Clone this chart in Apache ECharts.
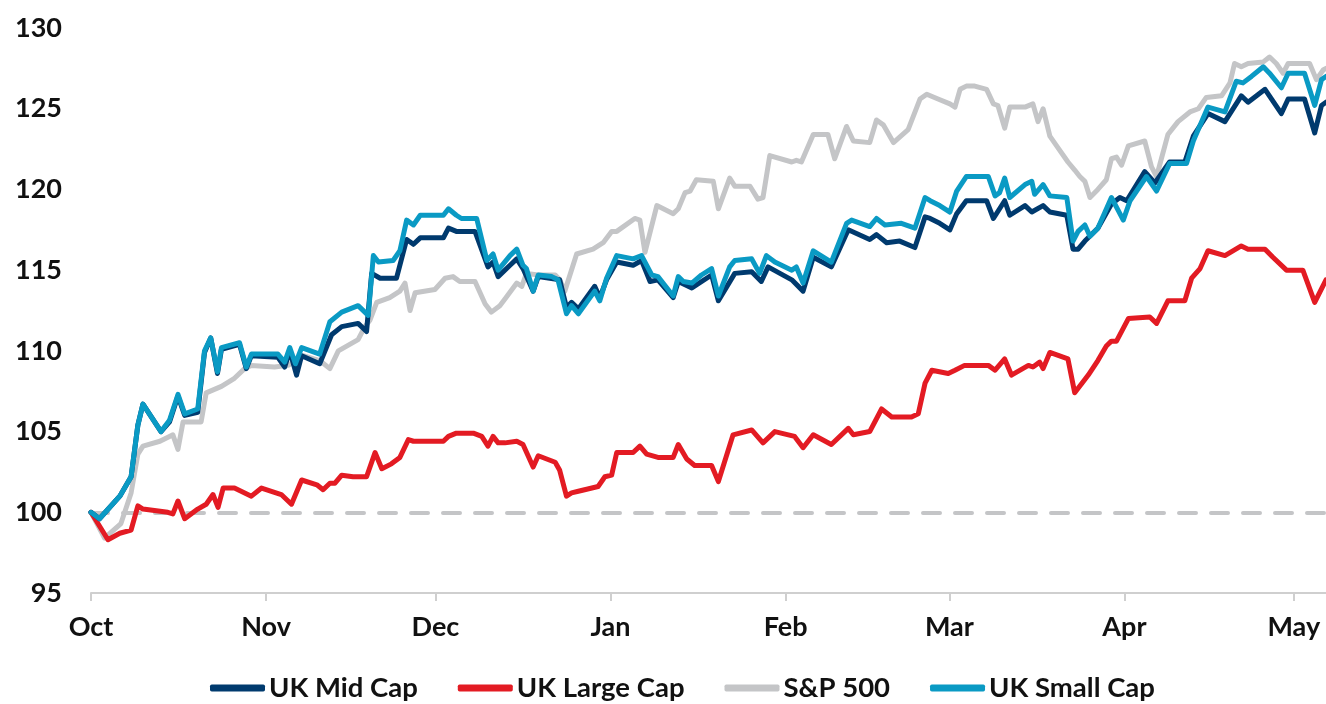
<!DOCTYPE html>
<html>
<head>
<meta charset="utf-8">
<script src="https://cdn.jsdelivr.net/npm/echarts@6/dist/echarts.min.js"></script>
<style>
html,body{margin:0;padding:0;background:#fff;}
#chart{width:1326px;height:704px;}
</style>
</head>
<body>
<div id="chart"></div>
<script>
// Month ticks: days since 1 Oct
const monthDays = [0, 31, 61, 92, 123, 152, 183, 213];
const monthLabels = ['Oct', 'Nov', 'Dec', 'Jan', 'Feb', 'Mar', 'Apr', 'May'];
const yTicks = [95, 100, 105, 110, 115, 120, 125, 130];
const seriesNames = ['UK Mid Cap', 'UK Large Cap', 'S&P 500', 'UK Small Cap'];

// UK Small Cap
const smallDays = [0,1.5,5.1,7.1,8.3,9.2,12.4,13.9,15.4,16.6,18.9,20.1,21.2,22.4,23.1,26.3,27.5,28.4,33.1,34.3,35.2,36.2,37.3,40.5,42.3,44.4,47.3,49.1,50.0,50.9,53.5,54.7,55.9,57.1,58.3,62.4,63.3,64.7,65.6,68.3,70.1,71.2,72.1,74.2,75.4,76.5,77.1,78.3,79.2,81.6,82.7,84.2,85.1,86.3,89.2,90.1,91.3,93.1,96.0,97.5,99.3,100.4,103.1,104.0,104.9,106.4,108.1,109.9,111.1,113.1,114.0,117.0,118.4,119.6,121.1,124.1,124.9,126.1,127.9,131.1,133.8,134.7,137.9,139.1,140.6,143.5,145.9,147.7,148.6,150.3,152.1,153.3,155.0,158.9,160.1,160.9,161.8,162.7,165.4,166.6,167.1,168.6,169.8,172.8,173.9,174.8,176.0,176.9,178.3,180.7,181.9,182.8,184.0,186.9,188.7,191.0,194.0,195.2,197.8,200.8,202.8,204.0,205.5,207.6,208.7,210.8,212.0,214.9,216.7,217.9,218.7];
const smallVals = [100.0,99.6,101.0,102.2,105.4,106.7,105.0,105.7,107.3,106.1,106.4,110.0,110.8,108.7,110.2,110.5,109.0,109.8,109.8,109.3,110.2,109.2,110.2,109.8,111.8,112.4,112.8,112.2,115.9,115.5,115.6,116.2,118.1,117.8,118.4,118.4,118.8,118.4,118.2,118.2,115.6,116.0,115.0,115.9,116.3,115.3,115.1,113.7,114.7,114.6,114.4,112.3,112.8,112.3,113.7,113.1,114.5,115.9,115.7,115.9,114.7,114.6,113.4,114.6,114.3,114.2,114.7,115.1,113.4,115.2,115.6,115.7,114.8,115.9,115.5,115.0,115.2,114.2,116.2,115.5,117.9,118.1,117.7,118.2,117.8,117.9,117.6,119.5,119.3,119.0,118.6,119.9,120.8,120.8,119.6,119.8,120.7,119.5,120.3,120.5,119.7,120.3,119.6,119.5,116.8,117.4,117.8,117.1,117.6,119.5,118.7,118.1,119.3,120.8,119.9,121.6,121.6,123.0,125.1,124.8,126.7,126.6,127.0,127.6,127.2,126.3,127.2,127.2,125.2,126.8,127.0];

// UK Mid Cap
const midDays = [0,1.5,5.1,7.1,8.3,9.2,12.4,13.9,15.4,16.6,18.9,20.1,21.2,22.4,23.1,26.3,27.5,28.4,33.1,34.3,35.2,36.4,37.3,40.5,42.6,44.4,47.3,48.8,49.7,51.2,54.1,55.9,57.1,58.3,62.4,63.3,64.7,68.0,70.3,71.2,72.1,74.2,75.4,76.5,78.3,79.2,83.0,84.2,85.1,86.3,89.2,90.1,91.3,93.1,96.0,97.5,99.0,100.4,103.1,104.0,106.4,109.9,111.1,114.0,117.0,118.7,119.9,124.1,126.1,127.9,131.1,134.1,137.9,139.1,140.9,143.2,145.9,147.7,148.6,150.3,152.1,153.3,155.0,158.6,159.8,161.8,162.7,165.4,166.6,168.6,169.8,172.8,173.9,174.8,176.0,178.3,180.7,182.2,183.4,186.6,188.4,191.0,193.7,195.2,197.8,200.8,203.7,204.9,207.9,210.8,212.0,214.9,216.7,217.9,218.7];
const midVals = [100.0,99.6,101.0,102.2,105.4,106.7,105.0,105.6,107.2,106.0,106.2,109.9,110.8,108.6,110.1,110.4,108.9,109.7,109.6,109.0,110.0,108.5,109.7,109.2,111.0,111.5,111.7,111.2,114.8,114.5,114.5,116.9,116.6,117.0,117.0,117.6,117.4,117.4,115.2,115.5,114.6,115.3,115.7,115.1,113.7,114.6,114.4,112.7,113.0,112.6,114.0,113.3,114.4,115.5,115.3,115.6,114.3,114.4,113.3,114.3,113.9,114.7,113.1,114.8,114.9,114.3,115.2,114.4,113.7,115.8,115.2,117.5,116.9,117.2,116.7,116.8,116.4,118.3,118.2,117.9,117.5,118.5,119.3,119.3,118.2,119.3,118.4,119.0,118.6,119.0,118.6,118.4,116.3,116.3,116.8,117.6,119.1,119.5,119.3,121.1,120.4,121.7,121.7,123.3,124.7,124.2,125.8,125.4,126.2,124.7,125.6,125.6,123.5,125.2,125.4];

// S&P 500
const spDays = [0,2.4,5.3,7.1,8.3,9.2,12.2,13.9,14.5,15.4,16.3,19.5,20.4,23.1,25.4,27.2,28.4,32.5,34.9,37.6,40.5,42.3,43.8,47.3,48.5,49.4,50.6,52.9,54.7,55.6,56.5,57.4,60.9,62.7,64.1,65.3,68.0,69.8,70.9,72.4,73.5,75.4,76.3,77.1,79.2,82.2,83.0,83.9,86.0,88.9,90.7,92.2,93.1,96.3,97.2,98.1,100.2,103.1,104.0,105.2,106.1,107.2,110.2,111.1,113.1,114.0,116.7,118.1,119.0,120.2,124.1,124.9,125.8,127.9,130.5,131.7,133.8,135.0,137.9,139.1,140.3,142.1,144.7,146.8,148.0,150.0,152.1,153.0,153.9,155.0,156.5,158.6,159.8,160.6,161.8,162.7,165.4,166.8,167.7,168.6,169.8,171.0,173.0,174.2,175.1,176.0,176.9,178.3,179.8,180.7,181.6,182.5,183.7,186.6,187.8,188.7,190.7,192.5,194.6,196.1,197.5,200.2,201.7,202.5,203.7,204.9,207.6,208.7,209.9,211.1,212.0,215.8,217.0,218.2,218.7];
const spVals = [100.0,98.4,99.3,101.2,103.6,104.1,104.4,104.7,104.8,103.9,105.6,105.6,107.4,107.8,108.3,108.9,109.1,109.0,109.1,109.7,109.4,108.9,110.0,110.7,111.5,111.9,113.0,113.3,113.7,114.2,112.5,113.6,113.8,114.5,114.6,114.3,114.3,112.9,112.4,112.8,113.3,114.2,114.0,114.8,114.7,114.7,114.4,113.7,116.0,116.3,116.7,117.4,117.4,118.2,118.1,116.1,119.0,118.5,118.8,119.8,119.9,120.6,120.5,118.8,120.7,120.2,120.2,119.4,119.5,122.1,121.7,121.8,121.7,123.4,123.4,121.9,123.9,123.0,122.9,124.3,124.0,122.9,123.7,125.6,125.9,125.6,125.3,125.1,126.2,126.4,126.4,126.2,125.3,125.2,123.8,125.1,125.1,125.3,124.2,125.0,123.3,122.7,121.7,121.2,120.8,120.5,119.5,120.0,120.6,121.9,122.0,121.5,122.7,123.0,121.4,120.8,123.4,124.2,124.8,125.0,125.7,125.8,126.6,127.8,127.6,127.8,127.9,128.2,127.8,127.2,127.8,127.8,126.8,127.4,127.5];

// UK Large Cap
const largeDays = [0,3.0,5.1,7.1,8.3,9.2,13.6,14.5,15.4,16.6,18.9,20.4,21.6,22.5,23.4,25.4,28.4,30.2,33.7,35.5,37.3,40.0,41.1,42.3,43.2,44.4,46.4,48.8,50.3,51.5,53.2,54.7,56.2,57.1,62.4,63.3,64.7,67.7,69.2,70.3,71.2,72.1,73.3,75.4,76.5,78.3,79.2,82.2,83.0,84.2,85.1,86.3,89.8,91.0,92.2,93.1,96.0,97.2,98.4,100.4,103.1,104.0,105.5,106.9,109.9,111.1,113.7,117.0,119.0,121.1,124.6,126.1,127.9,131.1,134.1,135.0,137.9,140.0,141.8,145.3,146.5,147.7,148.9,151.8,153.0,154.7,158.9,160.1,161.8,163.0,166.0,166.8,168.0,168.6,169.8,173.0,174.2,176.6,178.3,179.8,180.7,181.6,183.7,187.5,188.7,190.7,193.7,194.9,196.4,197.8,200.8,203.7,204.9,207.9,209.3,211.7,214.6,216.7,218.7];
const largeVals = [100.0,98.3,98.7,98.9,100.4,100.2,100.0,99.9,100.7,99.6,100.2,100.5,101.1,100.3,101.5,101.5,101.0,101.5,101.1,100.5,102.0,101.7,101.4,101.8,101.8,102.3,102.2,102.2,103.7,102.7,103.0,103.4,104.5,104.4,104.4,104.7,104.9,104.9,104.7,104.1,104.7,104.3,104.3,104.4,104.2,102.8,103.5,103.1,102.6,101.0,101.2,101.3,101.6,102.2,102.3,103.7,103.7,104.1,103.6,103.4,103.4,104.2,103.3,102.9,102.9,101.9,104.8,105.1,104.3,105.0,104.7,104.0,104.8,104.2,105.2,104.8,105.0,106.4,105.9,105.9,106.1,108.0,108.8,108.6,108.8,109.1,109.1,108.8,109.5,108.5,109.1,109.0,109.3,108.9,109.9,109.5,107.4,108.5,109.4,110.3,110.6,110.6,112.0,112.1,111.7,113.1,113.1,114.5,115.1,116.2,115.9,116.5,116.3,116.3,115.8,115.0,115.0,113.0,114.4];

const colors = ['#003a6e', '#e31b23', '#c4c5c7', '#0a9ac4'];
const zs = [3, 2, 1, 4];
const font = 'Lato, "Noto Sans", sans-serif';

function pairs(d, v) { return d.map((x, i) => [x, v[i]]); }
const dataSets = [pairs(midDays, midVals), pairs(largeDays, largeVals), pairs(spDays, spVals), pairs(smallDays, smallVals)];

const series = seriesNames.map((name, i) => ({
  name: name,
  type: 'line',
  data: dataSets[i],
  showSymbol: false,
  symbol: 'none',
  z: zs[i],
  color: colors[i],
  lineStyle: { width: 5, color: colors[i], cap: 'round', join: 'round' },
  emphasis: { disabled: true },
  animation: false
}));
series[2].markLine = {
  silent: true,
  symbol: 'none',
  label: { show: false },
  lineStyle: { color: '#c4c5c7', width: 4, type: [17, 15], cap: 'round' },
  data: [{ yAxis: 100 }],
  animation: false,
  z: 0
};

const chart = echarts.init(document.getElementById('chart'));
chart.setOption({
  animation: false,
  backgroundColor: '#ffffff',
  grid: { left: 91, right: 0, top: 28, bottom: 111, containLabel: false },
  xAxis: {
    type: 'value',
    min: 0,
    max: 218.7,
    axisLine: { show: true, lineStyle: { color: '#cfcfcf', width: 2 } },
    axisTick: { show: true, customValues: monthDays, length: 8, lineStyle: { color: '#cfcfcf', width: 2 } },
    axisLabel: {
      customValues: monthDays,
      formatter: v => monthLabels[monthDays.indexOf(Math.round(v))] || '',
      margin: 21,
      fontSize: 27,
      fontWeight: 'bold',
      fontFamily: font,
      color: '#111'
    },
    splitLine: { show: false }
  },
  yAxis: {
    type: 'value',
    min: yTicks[0],
    max: yTicks[yTicks.length - 1],
    interval: 5,
    axisLine: { show: false },
    axisTick: { show: false },
    splitLine: { show: false },
    axisLabel: {
      margin: 29,
      fontSize: 27,
      fontWeight: 'bold',
      fontFamily: font,
      color: '#111'
    }
  },
  legend: {
    data: seriesNames,
    top: 669,
    left: 205,
    icon: 'roundRect',
    itemWidth: 55,
    itemHeight: 7,
    itemGap: 40,
    textStyle: { fontSize: 27.5, fontWeight: 'bold', fontFamily: font, color: '#111', padding: [0, 0, 0, -1] }
  },
  series: series
});
</script>
</body>
</html>
